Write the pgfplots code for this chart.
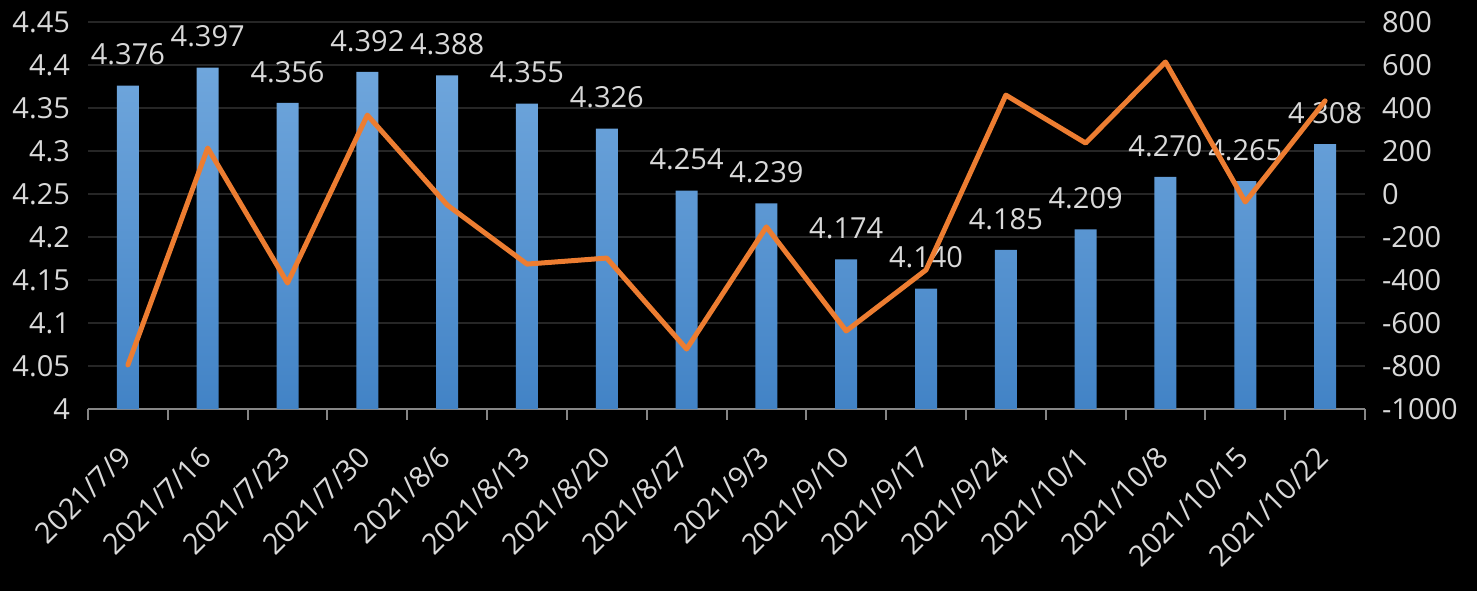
\documentclass[border=0pt]{standalone}
\usepackage{pgfplots}
\pgfplotsset{compat=1.18}
\usepackage{fontspec}
\setmainfont{Open Sans}
\definecolor{txt}{HTML}{D9D9D9}
\definecolor{grd}{HTML}{262626}
\definecolor{axl}{HTML}{868686}
\definecolor{orng}{HTML}{ED7D31}
\definecolor{bartop}{HTML}{6FA6DC}
\definecolor{barbot}{HTML}{4283C6}
\newcommand{\lblfont}{\fontsize{14.5}{17}\selectfont}
\begin{document}
\begin{tikzpicture}
\fill[black] (-44pt,-91pt) rectangle (694.5pt,204.5pt);
\begin{axis}[
  at={(0,0)}, anchor=south west, scale only axis,
  width=638.5pt, height=193.5pt,
  xmin=-0.5, xmax=15.5, ymin=4, ymax=4.45,
  y coord trafo/.code={\pgfmathparse{#1-4}},
  y coord inv trafo/.code={\pgfmathparse{#1+4}},
  axis x line*=bottom, axis y line*=left,
  x axis line style={axl, line width=1pt},
  y axis line style={draw=none},
  xtick={0,...,15},
  xticklabels={2021/7/9,2021/7/16,2021/7/23,2021/7/30,2021/8/6,2021/8/13,2021/8/20,2021/8/27,2021/9/3,2021/9/10,2021/9/17,2021/9/24,2021/10/1,2021/10/8,2021/10/15,2021/10/22},
  minor xtick={-0.5,0.5,...,15.5},
  major tick length=0pt, minor tick length=5.5pt, tick align=outside,
  minor tick style={axl, line width=1pt},
  major tick style={draw=none},
  ytick={4,4.05,4.1,4.15,4.2,4.25,4.3,4.35,4.4,4.45},
  yticklabels={4,4.05,4.1,4.15,4.2,4.25,4.3,4.35,4.4,4.45},
  ymajorgrids, major grid style={grd, line width=1pt},
  yticklabel style={font=\lblfont, text=txt, xshift=-5.5pt},
  xticklabel style={font=\lblfont, text=txt, inner sep=0pt, xshift=-1pt, yshift=-21.5pt, rotate=45, anchor=east},
  clip=false,
]
\addplot[ybar, bar width=11pt, draw=none, top color=bartop, bottom color=barbot,
  point meta=rawy,
  nodes near coords={\pgfmathprintnumber[fixed,zerofill,precision=3,assume math mode=true]{\pgfplotspointmeta}},
  every node near coord/.append style={font=\lblfont, text=txt, anchor=south, inner sep=0pt, yshift=10pt}]
coordinates {(0,4.376) (1,4.397) (2,4.356) (3,4.392) (4,4.388) (5,4.355) (6,4.326) (7,4.254) (8,4.239) (9,4.174) (10,4.140) (11,4.185) (12,4.209) (13,4.270) (14,4.265) (15,4.308)};
\end{axis}
\begin{axis}[
  at={(0,0)}, anchor=south west, scale only axis,
  width=638.5pt, height=193.5pt,
  xmin=-0.5, xmax=15.5, ymin=-1000, ymax=800,
  hide x axis, axis y line*=right, y axis line style={draw=none},
  ytick={-1000,-800,...,800}, major tick length=0pt, major tick style={draw=none},
  yticklabel style={font=\lblfont, text=txt, xshift=5pt,
    /pgf/number format/.cd, assume math mode=true, 1000 sep={}},
]
\addplot[orng, line width=2.5pt, line join=round, line cap=round] coordinates {
(0,-795) (1,214) (2,-414) (3,367) (4,-51) (5,-326) (6,-298) (7,-721) (8,-153) (9,-637) (10,-353) (11,460) (12,237) (13,614) (14,-37) (15,433)};
\end{axis}
\pgfresetboundingbox
\path[use as bounding box] (-44pt,-91pt) rectangle (694.5pt,204.5pt);
\end{tikzpicture}
\end{document}
